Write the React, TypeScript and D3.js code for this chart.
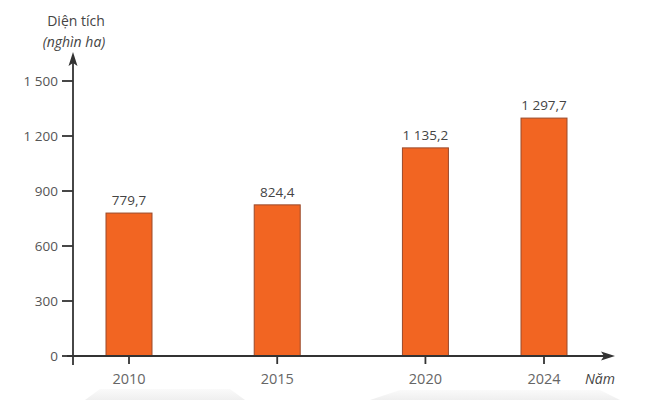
import React from "react";
import * as d3 from "d3";

const years = [2010, 2015, 2020, 2024];
const values = [779.7, 824.4, 1135.2, 1297.7];
const valueLabels = ["779,7", "824,4", "1 135,2", "1 297,7"];
const yTicks = [0, 300, 600, 900, 1200, 1500];
const yTickLabels = ["0", "300", "600", "900", "1 200", "1 500"];

const W = 658;
const H = 400;
const FONT = "'Open Sans', 'Liberation Sans', sans-serif";

export default function App() {
  const x = d3.scaleLinear().domain([2010, 2024]).range([129, 544]);
  const y = d3.scaleLinear().domain([0, 1500]).range([356, 81]);
  const axisX = 73;
  const y0 = y(0);
  const barW = 46;

  return (
    <svg
      width={W}
      height={H}
      viewBox={`0 0 ${W} ${H}`}
      style={{ position: "absolute", left: 0, top: 0, background: "#fff" }}
    >
      <defs>
        <linearGradient id="shade" x1="0" y1="0" x2="0" y2="1">
          <stop offset="0" stopColor="#fafafa" />
          <stop offset="1" stopColor="#efefef" />
        </linearGradient>
      </defs>
      <path d="M85,400 L100,389 L230,389 L245,400 Z" fill="url(#shade)" />
      <path d="M370,400 L400,390 L600,390 L620,400 Z" fill="url(#shade)" />

      {years.map((yr, i) => (
        <g key={yr}>
          <rect
            x={x(yr) - barW / 2}
            y={y(values[i])}
            width={barW}
            height={y0 - y(values[i])}
            fill="#F26522"
            stroke="#9a4a2a"
            strokeWidth={1}
          />
          <text
            x={x(yr)}
            y={y(values[i]) - 8}
            textAnchor="middle"
            fontFamily={FONT}
            fontSize={13.5}
            fill="#444"
          >
            {valueLabels[i]}
          </text>
          <line x1={x(yr)} x2={x(yr)} y1={y0} y2={y0 + 8} stroke="#333" strokeWidth={1.8} />
          <text
            x={x(yr)}
            y={y0 + 28}
            textAnchor="middle"
            fontFamily={FONT}
            fontSize={14.5}
            fill="#666"
          >
            {yr}
          </text>
        </g>
      ))}

      {yTicks.map((t, i) => (
        <g key={t}>
          <line x1={axisX - 11} x2={axisX} y1={y(t)} y2={y(t)} stroke="#333" strokeWidth={1.8} />
          <text
            x={axisX - 15}
            y={y(t) + 5}
            textAnchor="end"
            fontFamily={FONT}
            fontSize={13.5}
            fill="#555"
          >
            {yTickLabels[i]}
          </text>
        </g>
      ))}

      <line x1={axisX} x2={axisX} y1={y0 + 9} y2={62} stroke="#333" strokeWidth={1.8} />
      <path d={`M${axisX},52 L${axisX - 4.5},66 L${axisX},63 L${axisX + 4.5},66 Z`} fill="#333" />
      <line x1={67} x2={606} y1={y0} y2={y0} stroke="#333" strokeWidth={1.8} />
      <path d={`M615,${y0} L601,${y0 - 4.5} L604,${y0} L601,${y0 + 4.5} Z`} fill="#333" />

      <text x={76} y={26} textAnchor="middle" fontFamily={FONT} fontSize={14} fill="#444">
        Diện tích
      </text>
      <text
        x={74}
        y={47}
        textAnchor="middle"
        fontFamily={FONT}
        fontSize={14}
        fontStyle="italic"
        fill="#444"
      >
        (nghìn ha)
      </text>
      <text
        x={585}
        y={y0 + 28}
        textAnchor="start"
        fontFamily={FONT}
        fontSize={14}
        fontStyle="italic"
        fill="#444"
      >
        Năm
      </text>
    </svg>
  );
}
